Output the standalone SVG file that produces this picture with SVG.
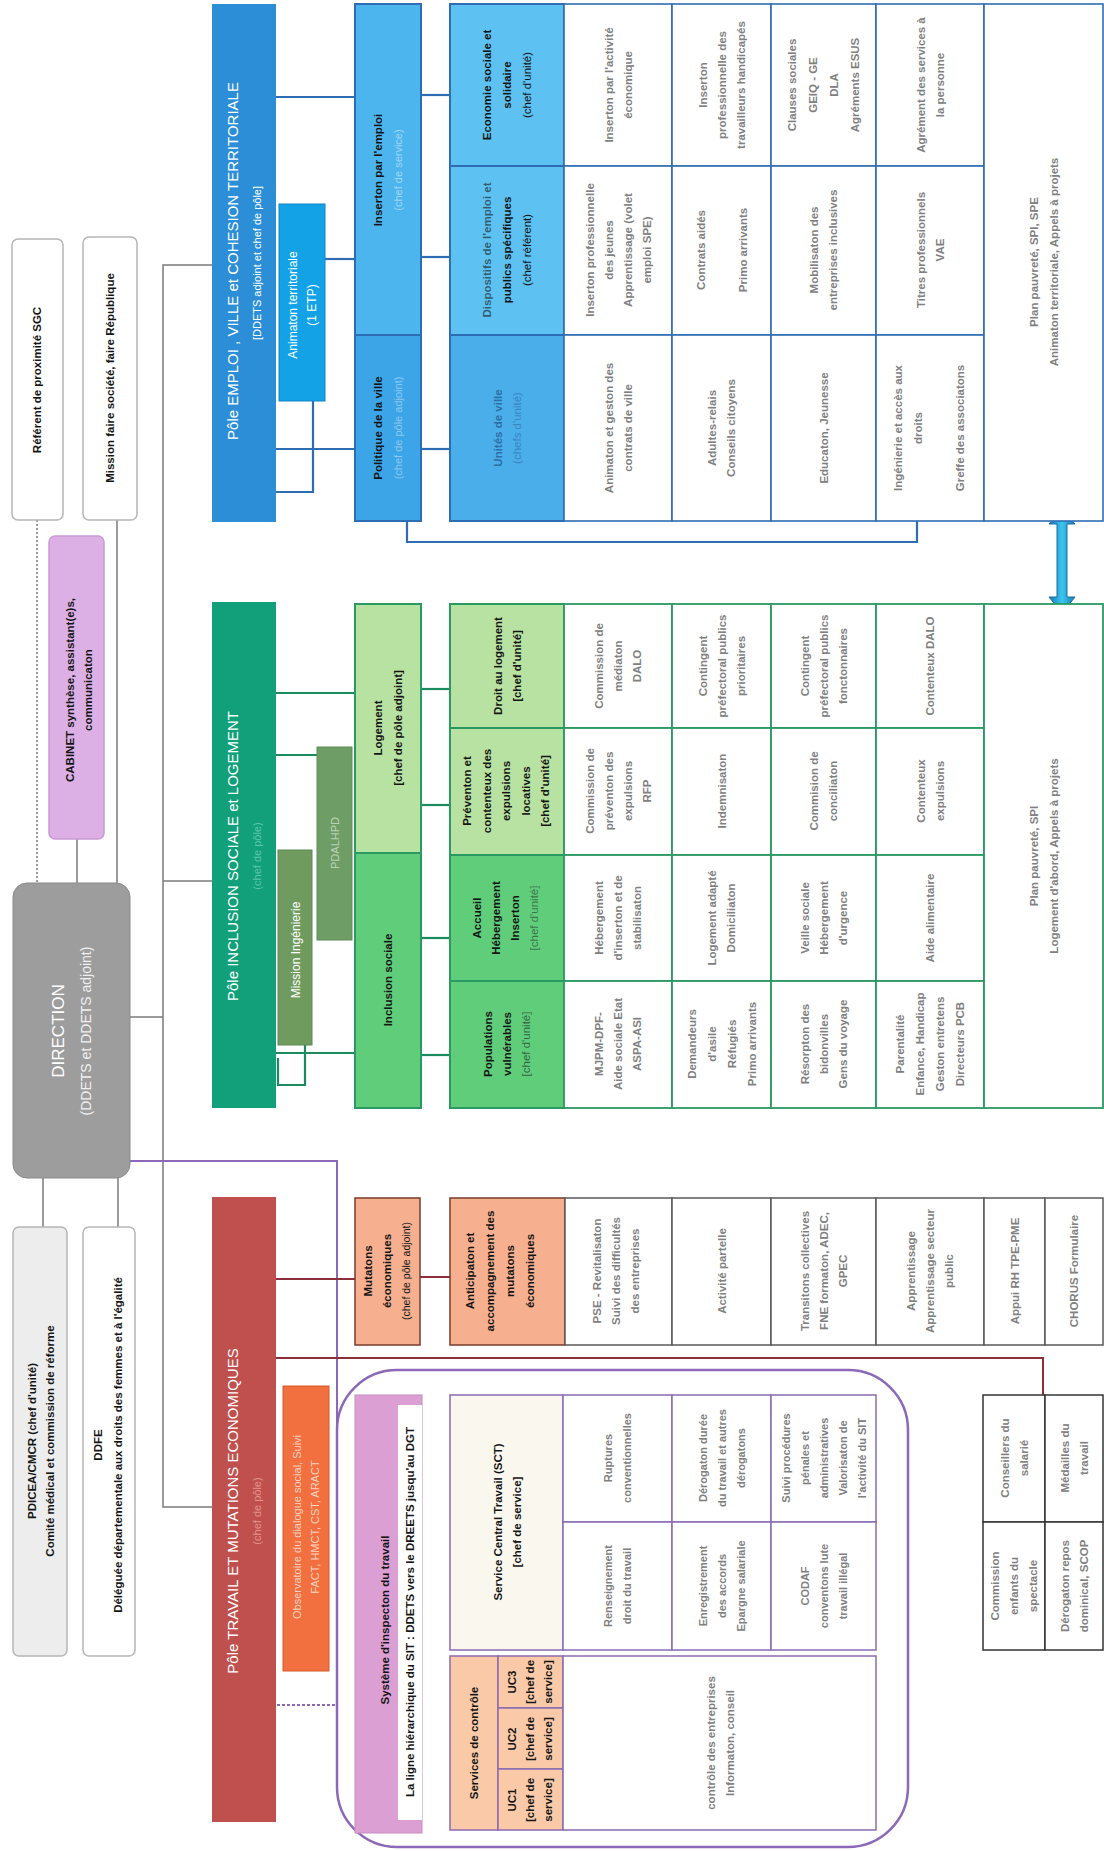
<svg xmlns="http://www.w3.org/2000/svg" width="1104" height="1851" viewBox="0 0 1104 1851">
<defs>
<style>
text{font-family:"Liberation Sans",Arial,sans-serif;text-anchor:middle}
.d{font-size:11.5px;font-weight:bold;fill:#808080}
.ds{font-size:11px;font-weight:bold;fill:#808080}
.b{font-size:11.5px;font-weight:bold;fill:#151515}
.f{font-size:11px;fill:#fff;fill-opacity:.5}
.p{font-size:15px;fill:#fff}
.box{stroke:#b5b5b5;stroke-width:1.5}
.ge{fill:#fff;stroke:#2e6db4;stroke-width:1.6}
.gi{fill:#fff;stroke:#2a9a62;stroke-width:1.8}
.gt{fill:#fff;stroke:#5a5a5a;stroke-width:1.5}
.gs{fill:#fff;stroke:#8a6bb2;stroke-width:1.5}
.k{fill:#fff;stroke:#333;stroke-width:1.5}
.lg{stroke:#7a7a7a;stroke-width:1.5;fill:none}
.lb{stroke:#2e6db4;stroke-width:2.2;fill:none}
.li{stroke:#1b8a5e;stroke-width:2.2;fill:none}
.lr{stroke:#8c2f3b;stroke-width:2;fill:none}
.lp{stroke:#8b68b8;stroke-width:2;fill:none}
</style>
<linearGradient id="arr" x1="0" y1="0" x2="1" y2="0">
<stop offset="0" stop-color="#1379b8"/><stop offset="0.5" stop-color="#3cc6ee"/><stop offset="1" stop-color="#1379b8"/>
</linearGradient>
</defs>
<rect width="1104" height="1851" fill="#fff"/>

<g id="connectors">
<line class="lg" x1="37" y1="520" x2="37" y2="883" stroke-dasharray="2 2"/>
<line class="lg" x1="117" y1="520" x2="117" y2="883"/>
<line class="lg" x1="77" y1="839" x2="77" y2="883"/>
<line class="lg" x1="43" y1="1178" x2="43" y2="1227"/>
<line class="lg" x1="118" y1="1178" x2="118" y2="1227"/>
<polyline class="lg" points="130,1017 163,1017"/>
<polyline class="lg" points="212,265 163,265 163,1507 212,1507"/>
<line class="lg" x1="163" y1="881" x2="212" y2="881"/>
<polyline class="lp" points="130,1161 337,1161 337,1432"/>
<line class="lp" x1="277" y1="1705" x2="337" y2="1705" stroke-dasharray="3 2"/>
<line class="lb" x1="276" y1="97" x2="355" y2="97"/>
<line class="lb" x1="276" y1="449" x2="355" y2="449"/>
<line class="lb" x1="325" y1="259" x2="355" y2="259"/>
<polyline class="lb" points="313,401 313,492 276,492"/>
<line class="lb" x1="421" y1="95" x2="450" y2="95"/>
<line class="lb" x1="421" y1="257" x2="450" y2="257"/>
<line class="lb" x1="421" y1="449" x2="450" y2="449"/>
<polyline class="lb" points="407,521 407,542 917,542 917,521"/>
<line class="li" x1="276" y1="693" x2="355" y2="693"/>
<line class="li" x1="276" y1="755" x2="317" y2="755"/>
<line class="li" x1="276" y1="1053" x2="355" y2="1053"/>
<polyline class="li" points="305,1045 305,1085 278,1085 278,1058"/>
<line class="li" x1="421" y1="689" x2="450" y2="689"/>
<line class="li" x1="421" y1="805" x2="450" y2="805"/>
<line class="li" x1="421" y1="938" x2="450" y2="938"/>
<line class="li" x1="421" y1="1055" x2="450" y2="1055"/>
<line class="lr" x1="276" y1="1279" x2="355" y2="1279"/>
<line class="lr" x1="420" y1="1277" x2="450" y2="1277"/>
<polyline class="lr" points="276,1358 1043,1358 1043,1395"/>
<polygon points="1062,509 1075,524 1067,524 1067,597 1075,597 1062,613 1049,597 1057,597 1057,524 1049,524" fill="url(#arr)" stroke="#1a6aa0" stroke-width="1"/>
</g>

<g id="referent"><rect class="box" x="12" y="239" width="51" height="281" rx="6" fill="#fff"/><text class="b" font-size="12" transform="translate(37,380) rotate(-90)" y="4">Référent de proximité  SGC</text></g>
<g id="mission-republique"><rect class="box" x="83" y="237" width="54" height="283" rx="6" fill="#fff"/><text class="b" transform="translate(110,378) rotate(-90)" y="4">Mission faire société, faire République</text></g>
<g id="cabinet"><rect x="49" y="536" width="55" height="303" rx="6" fill="#dcb0e5" stroke="#c89bd4" stroke-width="1.5"/><text class="b" font-size="11" transform="translate(79,690) rotate(-90)"><tspan x="0" y="-5">CABINET synthèse, assistant(e)s,</tspan><tspan x="0" y="13">communicaton</tspan></text></g>
<g id="direction"><rect x="13" y="883" width="117" height="295" rx="14" fill="#9d9d9d" stroke="#8a8a8a"/><text transform="translate(58,1031) rotate(-90)" y="6" font-size="17" fill="#fff">DIRECTION</text><text transform="translate(86,1031) rotate(-90)" y="5" font-size="14" fill="#f0f0f0">(DDETS et DDETS adjoint)</text></g>
<g id="pdicea"><rect class="box" x="13" y="1227" width="54" height="429" rx="6" fill="#ededed"/><text class="b" font-size="12" transform="translate(41,1441) rotate(-90)"><tspan x="0" y="-5">PDICEA/CMCR (chef d'unité)</tspan><tspan x="0" y="13">Comité médical et commission de réforme</tspan></text></g>
<g id="ddfe"><rect class="box" x="83" y="1227" width="52" height="429" rx="6" fill="#fff"/><text class="b" font-size="12" transform="translate(108,1445) rotate(-90)"><tspan x="0" y="-6">DDFE</tspan><tspan x="0" y="14">Déléguée départementale  aux droits des femmes et à l'égalité</tspan></text></g>

<g id="pole-emploi"><rect x="212" y="4" width="64" height="518" fill="#2b8ed6"/><text class="p" transform="translate(233,261) rotate(-90)" y="5">Pôle EMPLOI , VILLE et COHESION TERRITORIALE</text><text transform="translate(257,263) rotate(-90)" y="4" font-size="11" fill="#fff">[DDETS adjoint et chef de pôle]</text></g>
<g id="animation-territoriale"><rect x="279" y="204" width="46" height="197" fill="#13a2e6" stroke="#1584c8"/><text transform="translate(302,305) rotate(-90)" font-size="12" fill="#fff"><tspan x="0" y="-5">Animaton territoriale</tspan><tspan x="0" y="14">(1 ETP)</tspan></text></g>
<g id="insertion-emploi"><rect x="355" y="4" width="66" height="331" fill="#4db5ee" stroke="#2e6db4" stroke-width="2"/><text transform="translate(388,170) rotate(-90)"><tspan class="b" x="0" y="-6">Inserton par l'emploi</tspan><tspan x="0" y="14" font-size="11" fill="#9fd6f5">(chef de service)</tspan></text></g>
<g id="politique-ville"><rect x="355" y="335" width="66" height="186" fill="#3ca5e8" stroke="#2e6db4" stroke-width="2"/><text transform="translate(388,428) rotate(-90)"><tspan class="b" x="0" y="-6">Politique de la ville</tspan><tspan x="0" y="14" font-size="11" fill="#8cc8ef">(chef de pôle adjoint)</tspan></text></g>
<g id="ess"><rect x="450" y="4" width="114" height="162" fill="#5dc1f1" stroke="#2e6db4" stroke-width="2"/><text class="b" transform="translate(507,85) rotate(-90)"><tspan x="0" y="-16">Economie sociale et</tspan><tspan x="0" y="4">solidaire</tspan><tspan x="0" y="24" font-weight="normal">(chef d'unité)</tspan></text></g>
<g id="dispositifs"><rect x="450" y="166" width="114" height="169" fill="#5dc1f1" stroke="#2e6db4" stroke-width="2"/><text class="b" transform="translate(507,250) rotate(-90)"><tspan x="0" y="-16" fill-opacity=".6">Dispositifs de l'emploi et</tspan><tspan x="0" y="4">publics spécifiques</tspan><tspan x="0" y="24" font-weight="normal">(chef référent)</tspan></text></g>
<g id="unites-ville"><rect x="450" y="335" width="114" height="186" fill="#4aaeea" stroke="#2e6db4" stroke-width="2"/><text class="b" transform="translate(507,428) rotate(-90)" fill="#2a6fa8"><tspan x="0" y="-5" fill="#2d6ea5">Unités de ville</tspan><tspan x="0" y="14" fill="#3d85bf" font-weight="normal">(chefs d'unité)</tspan></text></g>

<g id="grille-emploi">
<rect class="ge" x="564" y="4" width="108" height="162"/><rect class="ge" x="564" y="166" width="108" height="169"/><rect class="ge" x="564" y="335" width="108" height="186"/>
<rect class="ge" x="672" y="4" width="99" height="162"/><rect class="ge" x="672" y="166" width="99" height="169"/><rect class="ge" x="672" y="335" width="99" height="186"/>
<rect class="ge" x="771" y="4" width="105" height="162"/><rect class="ge" x="771" y="166" width="105" height="169"/><rect class="ge" x="771" y="335" width="105" height="186"/>
<rect class="ge" x="876" y="4" width="108" height="162"/><rect class="ge" x="876" y="166" width="108" height="169"/><rect class="ge" x="876" y="335" width="108" height="186"/>
<rect class="ge" x="984" y="4" width="119" height="517"/>
<text class="d" transform="translate(618,85) rotate(-90)"><tspan x="0" y="-5.5">Inserton par l'activité</tspan><tspan x="0" y="13.5">économique</tspan></text>
<text class="d" transform="translate(618,250) rotate(-90)"><tspan x="0" y="-24.5">Inserton professionnelle</tspan><tspan x="0" y="-5.5">des jeunes</tspan><tspan x="0" y="13.5">Apprentissage (volet</tspan><tspan x="0" y="32.5">emploi SPE)</tspan></text>
<text class="d" transform="translate(618,428) rotate(-90)"><tspan x="0" y="-5.5">Animaton et geston des</tspan><tspan x="0" y="13.5">contrats de ville</tspan></text>
<text class="d" transform="translate(721.5,85) rotate(-90)"><tspan x="0" y="-15">Inserton</tspan><tspan x="0" y="4">professionnelle des</tspan><tspan x="0" y="23">travailleurs handicapés</tspan></text>
<text class="d" transform="translate(721.5,250) rotate(-90)"><tspan x="0" y="-17">Contrats aidés</tspan><tspan x="0" y="25">Primo arrivants</tspan></text>
<text class="d" transform="translate(721.5,428) rotate(-90)"><tspan x="0" y="-5.5">Adultes-relais</tspan><tspan x="0" y="13.5">Conseils citoyens</tspan></text>
<text class="d" transform="translate(823.5,85) rotate(-90)"><tspan x="0" y="-27.5">Clauses sociales</tspan><tspan x="0" y="-6.5">GEIQ - GE</tspan><tspan x="0" y="14.5">DLA</tspan><tspan x="0" y="35.5">Agréments ESUS</tspan></text>
<text class="d" transform="translate(823.5,250) rotate(-90)"><tspan x="0" y="-5.5">Mobilisaton des</tspan><tspan x="0" y="13.5">entreprises inclusives</tspan></text>
<text class="d" transform="translate(823.5,428) rotate(-90)" y="4">Educaton, Jeunesse</text>
<text class="d" transform="translate(930,85) rotate(-90)"><tspan x="0" y="-5.5">Agrément des services à</tspan><tspan x="0" y="13.5">la personne</tspan></text>
<text class="d" transform="translate(930,250) rotate(-90)"><tspan x="0" y="-5.5">Titres professionnels</tspan><tspan x="0" y="13.5">VAE</tspan></text>
<text class="d" transform="translate(930,428) rotate(-90)"><tspan x="0" y="-28">Ingénierie et accès aux</tspan><tspan x="0" y="-8">droits</tspan><tspan x="0" y="34">Greffe des associatons</tspan></text>
<text class="d" transform="translate(1044,262) rotate(-90)"><tspan x="0" y="-6">Plan pauvreté,  SPI,  SPE</tspan><tspan x="0" y="14">Animaton territoriale, Appels à projets</tspan></text>
</g>

<g id="pole-inclusion"><rect x="212" y="602" width="64" height="506" fill="#12a07b"/><text class="p" transform="translate(233,856) rotate(-90)" y="5">Pôle INCLUSION SOCIALE et LOGEMENT</text><text transform="translate(257,856) rotate(-90)" y="4" font-size="11" fill="#5ec7a5">(chef de pôle)</text></g>
<g id="mission-ingenierie"><rect x="278" y="850" width="34" height="195" fill="#6f9b5f" stroke="#5a8a50"/><text transform="translate(296,950) rotate(-90)" y="4" font-size="12" fill="#fff">Mission Ingénierie</text></g>
<g id="pdalhpd"><rect x="317" y="747" width="35" height="193" fill="#6e9e66" stroke="#5f8e58"/><text transform="translate(335,843) rotate(-90)" y="4" font-size="11" fill="#fff" fill-opacity=".55">PDALHPD</text></g>
<g id="logement"><rect x="355" y="604" width="66" height="249" fill="#b8e2a2" stroke="#2a9a62" stroke-width="2"/><text class="b" transform="translate(388,728) rotate(-90)"><tspan x="0" y="-6">Logement</tspan><tspan x="0" y="14">[chef de pôle adjoint]</tspan></text></g>
<g id="inclusion-sociale"><rect x="355" y="853" width="66" height="255" fill="#60cd7b" stroke="#2a9a62" stroke-width="2"/><text class="b" font-size="12" transform="translate(388,980) rotate(-90)" y="4">Inclusion sociale</text></g>
<g id="droit-logement"><rect x="450" y="604" width="114" height="124" fill="#b8e2a2" stroke="#2a9a62" stroke-width="2"/><text class="b" transform="translate(507,666) rotate(-90)"><tspan x="0" y="-5.5">Droit au logement</tspan><tspan x="0" y="13.5">[chef d'unité]</tspan></text></g>
<g id="prevention-expulsions"><rect x="450" y="728" width="114" height="127" fill="#b8e2a2" stroke="#2a9a62" stroke-width="2"/><text class="b" transform="translate(506,791) rotate(-90)"><tspan x="0" y="-35">Préventon et</tspan><tspan x="0" y="-15.5">contenteux des</tspan><tspan x="0" y="4">expulsions</tspan><tspan x="0" y="23.5">locatives</tspan><tspan x="0" y="43">[chef d'unité]</tspan></text></g>
<g id="accueil-hebergement"><rect x="450" y="855" width="114" height="126" fill="#60cd7b" stroke="#2a9a62" stroke-width="2"/><text class="b" transform="translate(507,918) rotate(-90)" fill="#2f5e3e"><tspan x="0" y="-26">Accueil</tspan><tspan x="0" y="-7">Hébergement</tspan><tspan x="0" y="12">Inserton</tspan><tspan x="0" y="31" font-weight="normal" fill-opacity=".5">[chef d'unité]</tspan></text></g>
<g id="populations-vulnerables"><rect x="450" y="981" width="114" height="127" fill="#60cd7b" stroke="#2a9a62" stroke-width="2"/><text class="b" transform="translate(507,1044) rotate(-90)" fill="#2f5e3e"><tspan x="0" y="-15">Populations</tspan><tspan x="0" y="4">vulnérables</tspan><tspan x="0" y="23" font-weight="normal" fill-opacity=".6">[chef d'unité]</tspan></text></g>

<g id="grille-inclusion">
<rect class="gi" x="564" y="604" width="108" height="124"/><rect class="gi" x="564" y="728" width="108" height="127"/><rect class="gi" x="564" y="855" width="108" height="126"/><rect class="gi" x="564" y="981" width="108" height="127"/>
<rect class="gi" x="672" y="604" width="99" height="124"/><rect class="gi" x="672" y="728" width="99" height="127"/><rect class="gi" x="672" y="855" width="99" height="126"/><rect class="gi" x="672" y="981" width="99" height="127"/>
<rect class="gi" x="771" y="604" width="105" height="124"/><rect class="gi" x="771" y="728" width="105" height="127"/><rect class="gi" x="771" y="855" width="105" height="126"/><rect class="gi" x="771" y="981" width="105" height="127"/>
<rect class="gi" x="876" y="604" width="108" height="124"/><rect class="gi" x="876" y="728" width="108" height="127"/><rect class="gi" x="876" y="855" width="108" height="126"/><rect class="gi" x="876" y="981" width="108" height="127"/>
<rect class="gi" x="984" y="604" width="119" height="504"/>
<text class="d" transform="translate(618,666) rotate(-90)"><tspan x="0" y="-15">Commission de</tspan><tspan x="0" y="4">médiaton</tspan><tspan x="0" y="23">DALO</tspan></text>
<text class="d" transform="translate(618,791) rotate(-90)"><tspan x="0" y="-24.5">Commission de</tspan><tspan x="0" y="-5.5">préventon des</tspan><tspan x="0" y="13.5">expulsions</tspan><tspan x="0" y="32.5">RFP</tspan></text>
<text class="d" transform="translate(618,918) rotate(-90)"><tspan x="0" y="-15">Hébergement</tspan><tspan x="0" y="4">d'inserton et de</tspan><tspan x="0" y="23">stabilisaton</tspan></text>
<text class="d" transform="translate(618,1044) rotate(-90)"><tspan x="0" y="-15">MJPM-DPF-</tspan><tspan x="0" y="4">Aide sociale Etat</tspan><tspan x="0" y="23">ASPA-ASI</tspan></text>
<text class="d" transform="translate(721.5,666) rotate(-90)"><tspan x="0" y="-15">Contingent</tspan><tspan x="0" y="4">préfectoral publics</tspan><tspan x="0" y="23">prioritaires</tspan></text>
<text class="d" transform="translate(721.5,791) rotate(-90)" y="4">Indemnisaton</text>
<text class="d" transform="translate(721.5,918) rotate(-90)"><tspan x="0" y="-5.5">Logement adapté</tspan><tspan x="0" y="13.5">Domiciliaton</tspan></text>
<text class="d" transform="translate(721.5,1044) rotate(-90)"><tspan x="0" y="-26">Demandeurs</tspan><tspan x="0" y="-6">d'asile</tspan><tspan x="0" y="14">Réfugiés</tspan><tspan x="0" y="34">Primo arrivants</tspan></text>
<text class="d" transform="translate(823.5,666) rotate(-90)"><tspan x="0" y="-15">Contingent</tspan><tspan x="0" y="4">préfectoral publics</tspan><tspan x="0" y="23">fonctonnaires</tspan></text>
<text class="d" transform="translate(823.5,791) rotate(-90)"><tspan x="0" y="-5.5">Commision de</tspan><tspan x="0" y="13.5">conciliaton</tspan></text>
<text class="d" transform="translate(823.5,918) rotate(-90)"><tspan x="0" y="-15">Veille sociale</tspan><tspan x="0" y="4">Hébergement</tspan><tspan x="0" y="23">d'urgence</tspan></text>
<text class="d" transform="translate(823.5,1044) rotate(-90)"><tspan x="0" y="-15">Résorpton des</tspan><tspan x="0" y="4">bidonvilles</tspan><tspan x="0" y="23">Gens du voyage</tspan></text>
<text class="d" transform="translate(930,666) rotate(-90)" y="4">Contenteux DALO</text>
<text class="d" transform="translate(930,791) rotate(-90)"><tspan x="0" y="-5.5">Contenteux</tspan><tspan x="0" y="13.5">expulsions</tspan></text>
<text class="d" transform="translate(930,918) rotate(-90)" y="4">Aide alimentaire</text>
<text class="d" transform="translate(930,1044) rotate(-90)"><tspan x="0" y="-26">Parentalité</tspan><tspan x="0" y="-6">Enfance, Handicap</tspan><tspan x="0" y="14">Geston entretens</tspan><tspan x="0" y="34">Directeurs  PCB</tspan></text>
<text class="d" transform="translate(1044,856) rotate(-90)"><tspan x="0" y="-6">Plan pauvreté, SPI</tspan><tspan x="0" y="14">Logement d'abord, Appels à projets</tspan></text>
</g>

<g id="pole-travail"><rect x="212" y="1197" width="64" height="625" fill="#c0504d"/><text class="p" transform="translate(233,1511) rotate(-90)" y="5">Pôle TRAVAIL ET MUTATIONS ECONOMIQUES</text><text transform="translate(257,1511) rotate(-90)" y="4" font-size="11" fill="#e3938f">(chef de pôle)</text></g>
<g id="observatoire"><rect x="283" y="1386" width="46" height="285" fill="#f26f3f" stroke="#d85a2a"/><text transform="translate(306,1527) rotate(-90)" font-size="11" fill="#fcd3c0"><tspan x="0" y="-5">Observatoire du dialogue social, Suivi</tspan><tspan x="0" y="13">FACT, HMCT, CST, ARACT</tspan></text></g>
<g id="mutations"><rect x="355" y="1198" width="65" height="147" fill="#f6b08f" stroke="#7a3b2a" stroke-width="1.5"/><text class="b" transform="translate(387,1271) rotate(-90)"><tspan x="0" y="-15">Mutatons</tspan><tspan x="0" y="4">économiques</tspan><tspan x="0" y="23" font-weight="normal" font-size="10.5">(chef de pôle adjoint)</tspan></text></g>
<g id="anticipation"><rect x="450" y="1198" width="115" height="147" fill="#f6b08f" stroke="#7a3b2a" stroke-width="1.5"/><text class="b" transform="translate(500,1271) rotate(-90)"><tspan x="0" y="-26">Anticipaton et</tspan><tspan x="0" y="-6">accompagnement des</tspan><tspan x="0" y="14">mutatons</tspan><tspan x="0" y="34">économiques</tspan></text></g>

<g id="grille-travail">
<rect class="gt" x="565" y="1198" width="107" height="147"/><rect class="gt" x="672" y="1198" width="99" height="147"/><rect class="gt" x="771" y="1198" width="105" height="147"/><rect class="gt" x="876" y="1198" width="108" height="147"/><rect class="gt" x="984" y="1198" width="61" height="147"/><rect class="gt" x="1045" y="1198" width="58" height="147"/>
<text class="d" transform="translate(616,1271) rotate(-90)"><tspan x="0" y="-15">PSE - Revitalisaton</tspan><tspan x="0" y="4">Suivi des difficultés</tspan><tspan x="0" y="23">des entreprises</tspan></text>
<text class="d" transform="translate(721.5,1271) rotate(-90)" y="4">Activité partelle</text>
<text class="d" transform="translate(823.5,1271) rotate(-90)"><tspan x="0" y="-15">Transitons collectives</tspan><tspan x="0" y="4">FNE formaton, ADEC,</tspan><tspan x="0" y="23">GPEC</tspan></text>
<text class="d" transform="translate(930,1271) rotate(-90)"><tspan x="0" y="-15">Apprentissage</tspan><tspan x="0" y="4">Apprentissage secteur</tspan><tspan x="0" y="23">public</tspan></text>
<text class="d" transform="translate(1014.5,1271) rotate(-90)" y="4">Appui RH TPE-PME</text>
<text class="d" transform="translate(1074,1271) rotate(-90)" y="4">CHORUS Formulaire</text>
</g>

<g id="commissions">
<rect class="k" x="983" y="1395" width="62" height="127"/><rect class="k" x="983" y="1522" width="62" height="128"/><rect class="k" x="1045" y="1395" width="58" height="127"/><rect class="k" x="1045" y="1522" width="58" height="128"/>
<text class="d" transform="translate(1014,1458) rotate(-90)"><tspan x="0" y="-5.5">Conseillers du</tspan><tspan x="0" y="13.5">salarié</tspan></text>
<text class="d" transform="translate(1014,1586) rotate(-90)"><tspan x="0" y="-15">Commission</tspan><tspan x="0" y="4">enfants du</tspan><tspan x="0" y="23">spectacle</tspan></text>
<text class="d" transform="translate(1074,1458) rotate(-90)"><tspan x="0" y="-5.5">Médailles du</tspan><tspan x="0" y="13.5">travail</tspan></text>
<text class="d" transform="translate(1074,1586) rotate(-90)"><tspan x="0" y="-5.5">Dérogaton repos</tspan><tspan x="0" y="13.5">dominical, SCOP</tspan></text>
</g>

<g id="systeme-inspection">
<rect x="337" y="1370" width="571" height="477" rx="60" fill="none" stroke="#8b68b8" stroke-width="2.5"/>
<rect x="355" y="1395" width="67" height="438" fill="#dc9fd3" stroke="#c98bc0"/>
<rect x="398" y="1405" width="24" height="415" fill="#fff"/>
<text class="b" font-size="12" transform="translate(385,1620) rotate(-90)" y="4">Système d'inspecton du travail</text>
<text class="b" font-size="10.5" transform="translate(410,1612) rotate(-90)" y="4">La ligne hiérarchique du SIT : DDETS vers le DREETS jusqu'au DGT</text>
</g>
<g id="services-controle">
<rect x="450" y="1656" width="48" height="174" fill="#f9c9a8" stroke="#8a6bb2" stroke-width="1.5"/>
<text class="b" transform="translate(474,1743) rotate(-90)" y="4">Services de contrôle</text>
<rect x="498" y="1656" width="65" height="52" fill="#f9c9a8" stroke="#8a6bb2" stroke-width="1.5"/>
<rect x="498" y="1708" width="65" height="61" fill="#f9c9a8" stroke="#8a6bb2" stroke-width="1.5"/>
<rect x="498" y="1769" width="65" height="61" fill="#f9c9a8" stroke="#8a6bb2" stroke-width="1.5"/>
<text class="b" font-size="10.5" transform="translate(530,1682) rotate(-90)"><tspan x="0" y="-14">UC3</tspan><tspan x="0" y="4">[chef de</tspan><tspan x="0" y="22">service]</tspan></text>
<text class="b" font-size="10.5" transform="translate(530,1739) rotate(-90)"><tspan x="0" y="-14">UC2</tspan><tspan x="0" y="4">[chef de</tspan><tspan x="0" y="22">service]</tspan></text>
<text class="b" font-size="10.5" transform="translate(530,1800) rotate(-90)"><tspan x="0" y="-14">UC1</tspan><tspan x="0" y="4">[chef de</tspan><tspan x="0" y="22">service]</tspan></text>
<rect class="gs" x="563" y="1656" width="313" height="174"/>
<text class="d" transform="translate(720,1743) rotate(-90)"><tspan x="0" y="-5.5">contrôle des entreprises</tspan><tspan x="0" y="13.5">Informaton, conseil</tspan></text>
</g>
<g id="sct">
<rect x="450" y="1395" width="113" height="255" fill="#faf7ee" stroke="#8a6bb2" stroke-width="1.5"/>
<text class="b" transform="translate(507,1522) rotate(-90)"><tspan x="0" y="-5.5">Service Central Travail (SCT)</tspan><tspan x="0" y="13.5">[chef de service]</tspan></text>
<rect class="gs" x="563" y="1395" width="109" height="127"/><rect class="gs" x="563" y="1522" width="109" height="128"/>
<rect class="gs" x="672" y="1395" width="99" height="127"/><rect class="gs" x="672" y="1522" width="99" height="128"/>
<rect class="gs" x="771" y="1395" width="105" height="127"/><rect class="gs" x="771" y="1522" width="105" height="128"/>
<text class="ds" transform="translate(617.5,1458) rotate(-90)"><tspan x="0" y="-5.5">Ruptures</tspan><tspan x="0" y="13.5">conventionnelles</tspan></text>
<text class="ds" transform="translate(617.5,1586) rotate(-90)"><tspan x="0" y="-5.5">Renseignement</tspan><tspan x="0" y="13.5">droit du travail</tspan></text>
<text class="ds" transform="translate(721.5,1458) rotate(-90)"><tspan x="0" y="-15">Dérogaton durée</tspan><tspan x="0" y="4">du travail et autres</tspan><tspan x="0" y="23">dérogatons</tspan></text>
<text class="ds" transform="translate(721.5,1586) rotate(-90)"><tspan x="0" y="-15">Enregistrement</tspan><tspan x="0" y="4">des accords</tspan><tspan x="0" y="23">Epargne salariale</tspan></text>
<text class="ds" transform="translate(823.5,1458) rotate(-90)"><tspan x="0" y="-34">Suivi procédures</tspan><tspan x="0" y="-15">pénales et</tspan><tspan x="0" y="4">administratives</tspan><tspan x="0" y="23">Valorisaton de</tspan><tspan x="0" y="42">l'activité du SIT</tspan></text>
<text class="ds" transform="translate(823.5,1586) rotate(-90)"><tspan x="0" y="-15">CODAF</tspan><tspan x="0" y="4">conventons lute</tspan><tspan x="0" y="23">travail illégal</tspan></text>
</g>
</svg>
